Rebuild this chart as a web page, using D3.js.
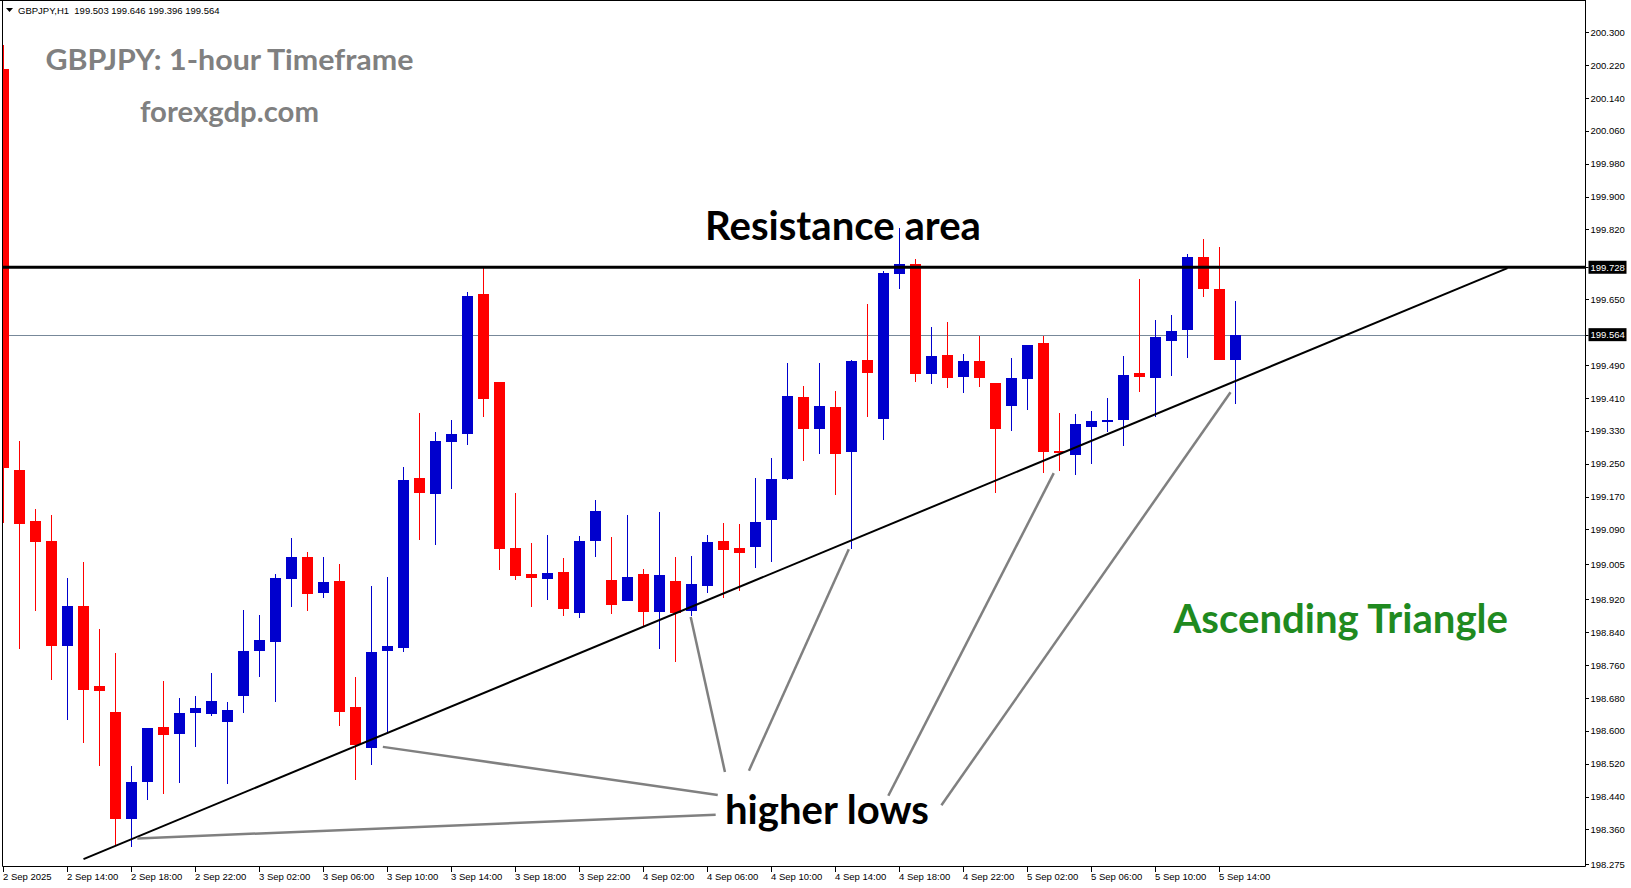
<!DOCTYPE html>
<html>
<head>
<meta charset="utf-8">
<script src="https://cdn.jsdelivr.net/npm/d3@7"></script>
<style>
  html, body { margin: 0; padding: 0; background: #fff; }
  svg { display: block; }
  text { white-space: pre; }
</style>
</head>
<body>
<script>
// ---------------- DATA ----------------
const symbol = "GBPJPY,H1";
const firstBarTime = Date.UTC(2025, 8, 2, 10); // 2 Sep 2025 10:00, hourly bars

const opens = [200.211,199.235,199.111,199.062,198.807,198.904,198.709,198.646,198.386,198.475,
  198.609,198.593,198.644,198.642,198.622,198.685,198.795,198.817,198.970,199.023,
  198.936,198.965,198.658,198.559,198.795,198.801,199.215,199.177,199.304,199.323,
  199.663,199.449,199.045,198.982,198.970,198.986,198.887,199.063,198.967,198.917,
  198.981,198.890,198.964,198.892,198.953,199.062,199.045,199.048,199.114,199.213,
  199.412,199.335,199.388,199.279,199.502,199.360,199.712,199.736,199.469,199.514,
  199.462,199.500,199.446,199.391,199.457,199.544,199.282,199.272,199.340,199.352,
  199.357,199.471,199.459,199.549,199.576,199.753,199.675,199.503];
const highs = [200.269,199.305,199.140,199.125,198.972,199.011,198.848,198.789,198.514,198.608,
  198.721,198.680,198.685,198.741,198.670,198.894,198.882,198.982,199.069,199.035,
  199.023,199.006,198.731,198.952,198.974,199.242,199.373,199.327,199.356,199.668,
  199.730,199.449,199.179,199.057,199.076,199.020,199.074,199.162,199.072,199.125,
  198.994,199.132,199.023,199.025,199.076,199.106,199.103,199.215,199.264,199.495,
  199.439,199.495,199.427,199.502,199.639,199.719,199.824,199.748,199.583,199.595,
  199.517,199.561,199.446,199.507,199.539,199.561,199.374,199.372,199.379,199.411,
  199.512,199.699,199.600,199.612,199.760,199.797,199.777,199.646];
const lows = [199.106,198.800,198.892,198.724,198.627,198.571,198.515,198.322,198.318,198.432,
  198.447,198.474,198.561,198.637,198.471,198.644,198.732,198.671,198.902,198.892,
  198.924,198.612,198.481,198.518,198.594,198.793,199.065,199.053,199.189,199.296,
  199.364,198.992,198.968,198.902,198.919,198.880,198.875,199.024,198.885,198.915,
  198.856,198.800,198.768,198.880,198.936,198.924,198.941,198.997,199.011,199.211,
  199.257,199.274,199.175,199.043,199.364,199.308,199.676,199.450,199.445,199.435,
  199.423,199.437,199.179,199.330,199.381,199.228,199.233,199.223,199.250,199.328,
  199.294,199.425,199.364,199.464,199.508,199.656,199.503,199.396];
const closes = [199.239,199.104,199.059,198.807,198.904,198.700,198.698,198.386,198.475,198.607,
  198.590,198.643,198.655,198.672,198.651,198.794,198.821,198.972,199.023,198.934,
  198.962,198.647,198.566,198.792,198.806,199.210,199.179,199.305,199.322,199.658,
  199.408,199.043,198.977,198.973,198.984,198.897,199.062,199.135,198.907,198.974,
  198.890,198.979,198.887,198.957,199.059,199.041,199.033,199.108,199.213,199.415,
  199.335,199.390,199.274,199.500,199.471,199.714,199.736,199.469,199.512,199.459,
  199.500,199.459,199.335,199.458,199.539,199.279,199.275,199.347,199.354,199.356,
  199.466,199.462,199.558,199.573,199.753,199.676,199.503,199.564];

const priceTicks = [200.300,200.220,200.140,200.060,199.980,199.900,199.820,199.650,
  199.490,199.410,199.330,199.250,199.170,199.090,199.005,198.920,198.840,198.760,
  198.680,198.600,198.520,198.440,198.360,198.275];
const firstDateLabel = "2 Sep 2025";
const timeTickLabels = ["2 Sep 14:00","2 Sep 18:00","2 Sep 22:00","3 Sep 02:00","3 Sep 06:00",
  "3 Sep 10:00","3 Sep 14:00","3 Sep 18:00","3 Sep 22:00","4 Sep 02:00","4 Sep 06:00",
  "4 Sep 10:00","4 Sep 14:00","4 Sep 18:00","4 Sep 22:00","5 Sep 02:00","5 Sep 06:00",
  "5 Sep 10:00","5 Sep 14:00"];

const resistanceLevel = 199.728;
// trend line: [bar index, price]
const trendLine = [[5, 198.288], [94, 199.726]];
// "higher lows" pointer lines: [[bar, price], [bar, price]]
const pointerLines = [
  [[8.36, 198.338], [44.51, 198.396]],
  [[23.71, 198.561], [44.64, 198.444]],
  [[42.95, 198.877], [45.09, 198.500]],
  [[52.83, 199.042], [46.59, 198.503]],
  [[65.64, 199.227], [55.30, 198.442]],
  [[76.69, 199.424], [58.62, 198.419]]
];

// ---------------- CHART ----------------
const W = 1631, H = 888;
const plotLeft = 2.5, plotRight = 1585.5, plotTop = 0.5, plotBottom = 866.5;
const barW = 11;

const x = d3.scaleLinear().domain([0, opens.length - 1]).range([3.5, 3.5 + 16 * (opens.length - 1)]);
const y = d3.scaleLinear().domain([198.275, 200.300]).range([864.4, 32.2]);

const svg = d3.select("body").append("svg").attr("width", W).attr("height", H)
  .style("font-family", "'Liberation Sans', Arial, sans-serif");

svg.append("rect").attr("width", W).attr("height", H).attr("fill", "#fff");

svg.append("defs").append("clipPath").attr("id", "plotclip")
  .append("rect").attr("x", 3).attr("y", 1).attr("width", plotRight - 3).attr("height", plotBottom - 1);

const plot = svg.append("g").attr("clip-path", "url(#plotclip)");

const lastClose = closes[closes.length - 1];
// current price line (behind candles)
plot.append("line")
  .attr("x1", plotLeft).attr("x2", plotRight)
  .attr("y1", Math.round(y(lastClose)) + 0.5).attr("y2", Math.round(y(lastClose)) + 0.5)
  .attr("stroke", "#778899").attr("stroke-width", 1);

const bars = d3.range(opens.length).map(i => ({
  i, o: opens[i], h: highs[i], l: lows[i], c: closes[i]
}));
const up = d => d.c >= d.o;
const colr = d => up(d) ? "#0000CD" : "#FF0000";

const cg = plot.append("g").attr("shape-rendering", "crispEdges");
cg.selectAll("rect.wick").data(bars).join("rect").attr("class", "wick")
  .attr("x", d => x(d.i) - 0.5).attr("width", 1)
  .attr("y", d => y(d.h)).attr("height", d => Math.max(1, y(d.l) - y(d.h)))
  .attr("fill", colr);
cg.selectAll("rect.body").data(bars).join("rect").attr("class", "body")
  .attr("x", d => x(d.i) - barW / 2).attr("width", barW)
  .attr("y", d => y(Math.max(d.o, d.c)))
  .attr("height", d => Math.max(2, Math.abs(y(d.o) - y(d.c))))
  .attr("fill", colr);

// resistance line
plot.append("line")
  .attr("x1", plotLeft).attr("x2", plotRight)
  .attr("y1", y(resistanceLevel)).attr("y2", y(resistanceLevel))
  .attr("stroke", "#000").attr("stroke-width", 3);

// trend line
plot.append("line")
  .attr("x1", x(trendLine[0][0])).attr("y1", y(trendLine[0][1]))
  .attr("x2", x(trendLine[1][0])).attr("y2", y(trendLine[1][1]))
  .attr("stroke", "#000").attr("stroke-width", 2);

// pointer lines
plot.selectAll("line.ptr").data(pointerLines).join("line").attr("class", "ptr")
  .attr("x1", d => x(d[0][0])).attr("y1", d => y(d[0][1]))
  .attr("x2", d => x(d[1][0])).attr("y2", d => y(d[1][1]))
  .attr("stroke", "#808080").attr("stroke-width", 2.5);

// frame
svg.append("line").attr("x1", plotLeft).attr("x2", plotLeft).attr("y1", 0).attr("y2", plotBottom)
  .attr("stroke", "#000").attr("stroke-width", 1);
svg.append("line").attr("x1", 0).attr("x2", plotRight).attr("y1", plotTop).attr("y2", plotTop)
  .attr("stroke", "#000").attr("stroke-width", 1);
svg.append("line").attr("x1", plotLeft).attr("x2", plotRight).attr("y1", plotBottom).attr("y2", plotBottom)
  .attr("stroke", "#000").attr("stroke-width", 1);
svg.append("line").attr("x1", plotRight).attr("x2", plotRight).attr("y1", 0).attr("y2", plotBottom)
  .attr("stroke", "#000").attr("stroke-width", 1);

// right price axis
const yAxis = d3.axisRight(y).tickValues(priceTicks).tickFormat(d3.format(".3f"))
  .tickSize(3).tickPadding(2);
const ya = svg.append("g").attr("transform", `translate(${plotRight},0)`).call(yAxis);
ya.select(".domain").remove();
ya.selectAll(".tick line").attr("stroke", "#000").attr("shape-rendering", "crispEdges");
ya.selectAll(".tick text").attr("fill", "#000").attr("font-size", 9.5)
  .attr("font-family", "'Liberation Sans', Arial, sans-serif");

// price boxes
function priceBox(v) {
  const g = svg.append("g");
  g.append("line").attr("x1", plotRight).attr("x2", plotRight + 3)
    .attr("y1", Math.round(y(v)) + 0.5).attr("y2", Math.round(y(v)) + 0.5).attr("stroke", "#000");
  g.append("rect").attr("x", plotRight + 3).attr("y", y(v) - 6.5).attr("width", 38).attr("height", 13)
    .attr("fill", "#000");
  g.append("text").attr("x", plotRight + 5).attr("y", y(v)).attr("dy", "0.34em")
    .attr("fill", "#fff").attr("font-size", 9.5).text(d3.format(".3f")(v));
}
priceBox(resistanceLevel);
priceBox(lastClose);

// bottom time axis
const fmt = d3.utcFormat("%-d %b %H:%M");
const barLabels = bars.map(d => fmt(new Date(firstBarTime + d.i * 3600000)));
const timeTicks = [{ i: 0, label: firstDateLabel }]
  .concat(timeTickLabels.map(l => ({ i: barLabels.indexOf(l), label: l })));
const xa = svg.append("g").attr("shape-rendering", "crispEdges");
xa.selectAll("line").data(timeTicks).join("line")
  .attr("x1", d => Math.floor(x(d.i)) + 0.5).attr("x2", d => Math.floor(x(d.i)) + 0.5)
  .attr("y1", plotBottom).attr("y2", plotBottom + 5).attr("stroke", "#000");
svg.append("g").selectAll("text").data(timeTicks).join("text")
  .attr("x", d => Math.max(3, x(d.i) - 0.5)).attr("y", 880)
  .attr("font-size", 9.5).attr("fill", "#000").text(d => d.label);

// header
svg.append("path").attr("d", "M6,8 L13,8 L9.5,12 Z").attr("fill", "#000");
const last = bars[bars.length - 1];
svg.append("text").attr("x", 18).attr("y", 13.5).attr("font-size", 9.5).attr("fill", "#000")
  .text(`${symbol}  ${[last.o, last.h, last.l, last.c].map(d3.format(".3f")).join(" ")}`);

// annotation texts
function bigText(str, x0, base, width, size, fill) {
  const t = svg.append("text").attr("x", x0).attr("y", base)
    .attr("font-family", "Lato, 'Open Sans', sans-serif").attr("font-weight", 700)
    .attr("font-size", size).attr("fill", fill).text(str);
  t.attr("textLength", width).attr("lengthAdjust", "spacingAndGlyphs");
  return t;
}
bigText("GBPJPY: 1-hour Timeframe", 45.5, 69.5, 368, 28, "#808080");
bigText("forexgdp.com", 140, 121.5, 179, 28, "#808080");
bigText("Resistance area", 705, 240, 276, 40, "#000");
bigText("higher lows", 725, 823.5, 204, 40, "#000");
bigText("Ascending Triangle", 1173.5, 632.5, 334.5, 40, "#1F8A1F");
</script>
</body>
</html>
